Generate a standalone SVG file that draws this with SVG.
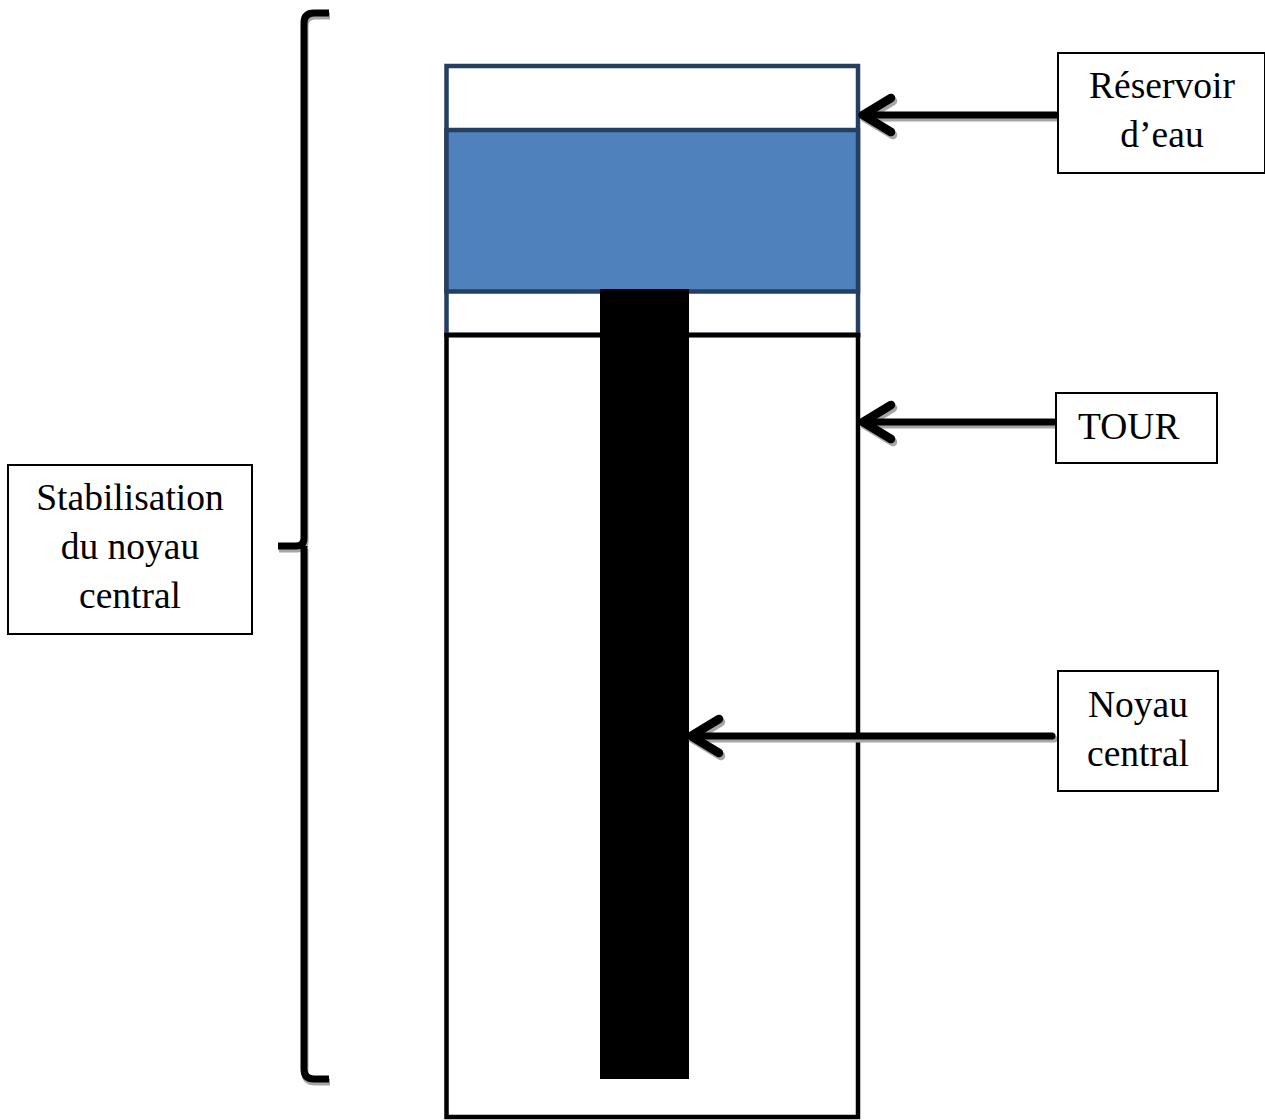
<svg xmlns="http://www.w3.org/2000/svg" width="1265" height="1120" viewBox="0 0 1265 1120">
<style>
.lbl{fill:#fff;stroke:#000;stroke-width:2}
.t{font-family:"Liberation Serif","Times New Roman",serif;font-size:37.5px;fill:#000}
.arr{fill:none;stroke:#000;stroke-width:7;stroke-linecap:round;stroke-linejoin:round}
.sh{fill:none;stroke:#a6a6a6;stroke-width:7;stroke-linecap:round;stroke-linejoin:round}
.hd{stroke-width:8.5}
</style>
<rect width="1265" height="1120" fill="#fff"/>
<g id="tour">
<rect x="446.5" y="335" width="411.5" height="782" fill="#fff" stroke="#000" stroke-width="4.5"/>
</g>
<g id="reservoir">
<rect x="446.5" y="66" width="411.5" height="269" fill="none" stroke="#243f60" stroke-width="4.5"/>
<rect x="446.5" y="130" width="411.5" height="161.5" fill="#4f81bd" stroke="#243f60" stroke-width="4.5"/>
</g>
<g id="tour-edge">
<line x1="444.25" y1="335" x2="860.25" y2="335" stroke="#000" stroke-width="4.5"/>
</g>
<g id="noyau">
<rect x="600" y="289" width="89" height="790" fill="#000"/>
</g>
<g id="brace">
<path d="M329 13 H314 Q304 13 304 23 V538 Q304 546 296 546 H278 M304 546 V1069 Q304 1079 314 1079 H329" transform="translate(1,3)" fill="none" stroke="#a6a6a6" stroke-width="7" stroke-linecap="butt" stroke-linejoin="round"/>
<path d="M329 13 H314 Q304 13 304 23 V538 Q304 546 296 546 H278 M304 546 V1069 Q304 1079 314 1079 H329" fill="none" stroke="#000" stroke-width="7" stroke-linecap="butt" stroke-linejoin="round"/>
</g>
<g id="connectors">
<path class="sh" transform="translate(2,3)" d="M1056 115 H862"/>
<path class="sh hd" transform="translate(2,3)" d="M891 98 L863 115 L891 132"/>
<path class="arr" d="M1056 115 H862"/>
<path class="arr hd" d="M891 98 L863 115 L891 132"/>
<path class="sh" transform="translate(2,3)" d="M1054 422 H862"/>
<path class="sh hd" transform="translate(2,3)" d="M891 405 L863 422 L891 439"/>
<path class="arr" d="M1054 422 H862"/>
<path class="arr hd" d="M891 405 L863 422 L891 439"/>
<path class="sh" transform="translate(2,3)" d="M1052 736 H690"/>
<path class="sh hd" transform="translate(2,3)" d="M719 719 L691 736 L719 753"/>
<path class="arr" d="M1052 736 H690"/>
<path class="arr hd" d="M719 719 L691 736 L719 753"/>
</g>
<g id="label-reservoir">
<rect class="lbl" x="1058" y="53" width="207" height="120"/>
<text class="t" x="1162" y="98" text-anchor="middle">Réservoir</text>
<text class="t" x="1162" y="147" text-anchor="middle">d’eau</text>
</g>
<g id="label-tour">
<rect class="lbl" x="1056" y="393" width="161" height="70"/>
<text class="t" x="1078" y="439">TOUR</text>
</g>
<g id="label-noyau">
<rect class="lbl" x="1058" y="671" width="160" height="120"/>
<text class="t" x="1138" y="717" text-anchor="middle">Noyau</text>
<text class="t" x="1138" y="766" text-anchor="middle">central</text>
</g>
<g id="label-stabilisation">
<rect class="lbl" x="8" y="465" width="244" height="169"/>
<text class="t" x="130" y="510" text-anchor="middle">Stabilisation</text>
<text class="t" x="130" y="559" text-anchor="middle">du noyau</text>
<text class="t" x="130" y="608" text-anchor="middle">central</text>
</g>
</svg>
